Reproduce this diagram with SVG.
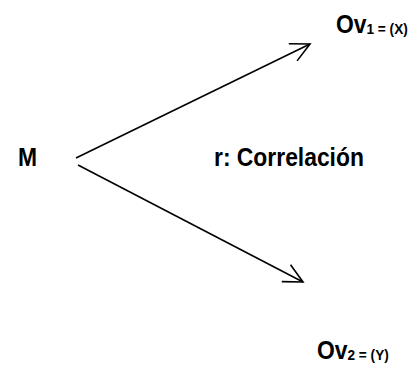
<svg xmlns="http://www.w3.org/2000/svg" width="412" height="365" viewBox="0 0 412 365">
<style>
.t{font-family:"Liberation Sans",Arial,sans-serif;font-weight:bold;fill:#000}
.big{font-size:26px}
.sub{font-size:15.5px}
.c{stroke:#000;stroke-width:1.6;fill:none;marker-end:url(#ah)}
</style>
<defs>
<marker id="ah" markerUnits="userSpaceOnUse" markerWidth="30" markerHeight="30" viewBox="-25 -15 30 30" refX="0" refY="0" orient="auto" overflow="visible">
<path d="M-19,-9.5 L0,0 L-19,9.5" fill="none" stroke="#000" stroke-width="1.6" stroke-linejoin="miter"/>
</marker>
</defs>
<rect width="412" height="365" fill="#fff"/>
<g id="connectors">
<line class="c" x1="76" y1="158" x2="310" y2="44"/>
<line class="c" x1="78" y1="165" x2="303" y2="282"/>
</g>
<g id="node-M" transform="translate(18,166) scale(0.88,1)"><text class="t big" x="0" y="0">M</text></g>
<g id="label-r" transform="translate(214,166) scale(0.88,1)"><text class="t big" x="0" y="0">r: Correlación</text></g>
<g id="node-Ov1" transform="translate(336,33) scale(0.88,1)"><text class="t" x="0" y="0"><tspan class="big">Ov</tspan><tspan class="sub" dy="1">1 = (X)</tspan></text></g>
<g id="node-Ov2" transform="translate(317,359) scale(0.88,1)"><text class="t" x="0" y="0"><tspan class="big">Ov</tspan><tspan class="sub" dy="1">2 = (Y)</tspan></text></g>
</svg>
